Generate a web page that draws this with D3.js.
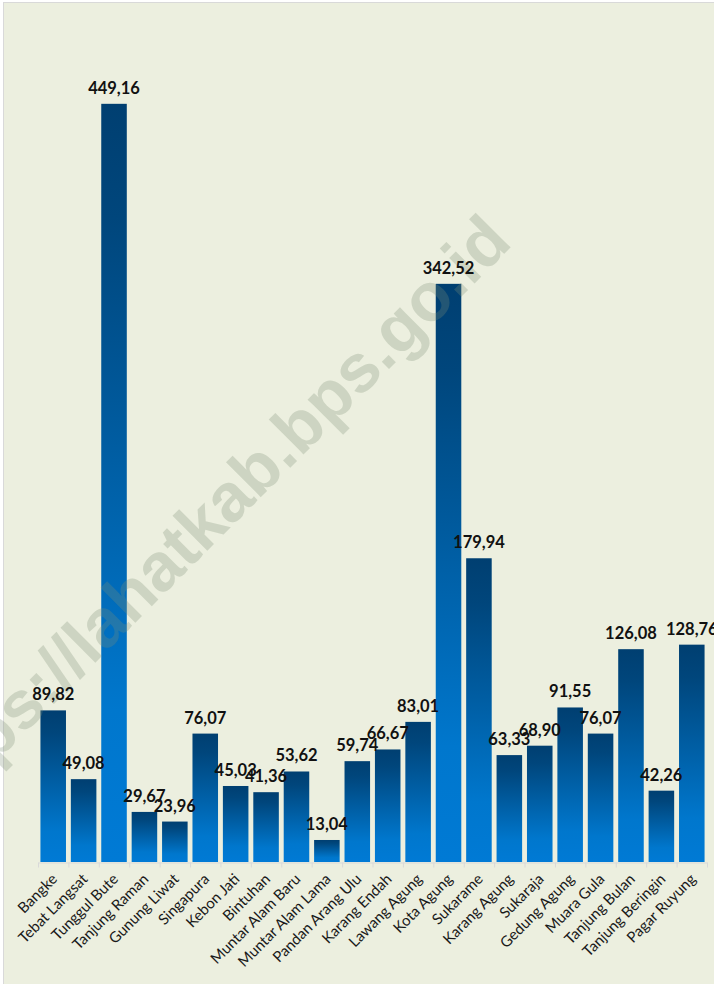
<!DOCTYPE html>
<html>
<head>
<meta charset="utf-8">
<script src="https://cdn.jsdelivr.net/npm/d3@7"></script>
<style>
  html, body { margin: 0; padding: 0; background: #fff; }
  .d3__axis path, .d3__axis line { stroke: #d9d9d9; }
  .d3__axis text { display: none; }
</style>
</head>
<body>
<div id="chart"></div>
<script>
"use strict";

// nama desa, urutan sesuai chart
var categories = [
  "Bangke", "Tebat Langsat", "Tunggul Bute", "Tanjung Raman", "Gunung Liwat",
  "Singapura", "Kebon Jati", "Bintuhan", "Muntar Alam Baru", "Muntar Alam Lama",
  "Pandan Arang Ulu", "Karang Endah", "Lawang Agung", "Kota Agung", "Sukarame",
  "Karang Agung", "Sukaraja", "Gedung Agung", "Muara Gula", "Tanjung Bulan",
  "Tanjung Beringin", "Pagar Ruyung"
];

var values = [
  89.82, 49.08, 449.16, 29.67, 23.96,
  76.07, 45.03, 41.36, 53.62, 13.04,
  59.74, 66.67, 83.01, 342.52, 179.94,
  63.33, 68.90, 91.55, 76.07, 126.08,
  42.26, 128.76
];

var yDomain = [0, 500];
var watermark = "https://lahatkab.bps.go.id";

var width = 714;
var height = 984;
var plotLeft = 38;    // kiri area plot
var plotRight = 707;  // kanan area plot
var plotTop = 18;
var plotBottom = 862; // garis sumbu x

var svg = d3.select('#chart')
            .append('svg')
            .attr('width', width)
            .attr('height', height)
            .style('display', 'block');

// bingkai chart
svg.append('rect')
  .attr('x', 3.5)
  .attr('y', 2.5)
  .attr('width', width + 20)
  .attr('height', height + 20)
  .attr('fill', '#ecefdf')
  .attr('stroke', '#d9d9d9');

var scaleX = d3.scaleBand()
              .domain(categories)
              .range([plotLeft, plotRight])
              .paddingInner(0.16)
              .paddingOuter(0.08);

var scaleY = d3.scaleLinear()
              .domain(yDomain)
              .range([plotBottom, plotTop]);

// garis sumbu dengan tick di batas kategori
var scaleEdges = d3.scaleLinear()
                  .domain([0, categories.length])
                  .range([plotLeft, plotRight]);

var xAxis = d3.axisBottom(scaleEdges)
              .tickValues(d3.range(categories.length + 1))
              .tickSizeInner(5)
              .tickSizeOuter(0);

svg.append('g')
  .classed('d3__axis', true)
  .attr('transform', 'translate(0,' + (plotBottom + 0.5) + ')')
  .call(xAxis);

var grad = svg.append('defs')
              .append('linearGradient')
              .attr('id', 'bar-gradient')
              .attr('gradientUnits', 'objectBoundingBox')
              .attr('x1', 0).attr('y1', 0)
              .attr('x2', 0).attr('y2', 1);

grad.append('stop').attr('offset', '0%').attr('stop-color', '#003f71');
grad.append('stop').attr('offset', '15%').attr('stop-color', '#00467c');
grad.append('stop').attr('offset', '80%').attr('stop-color', '#0077cd');
grad.append('stop').attr('offset', '100%').attr('stop-color', '#007ad5');

var data = categories.map(function(c, i) {
  return { name: c, value: values[i] };
});

svg.append('g')
  .selectAll('rect')
  .data(data)
  .enter().append('rect')
    .attr('x', function(d) { return scaleX(d.name); })
    .attr('y', function(d) { return scaleY(d.value); })
    .attr('width', scaleX.bandwidth())
    .attr('height', function(d) { return plotBottom - scaleY(d.value); })
    .attr('fill', 'url(#bar-gradient)');

// watermark transparan di atas batang
svg.append('text')
  .attr('transform', 'translate(514, 244) rotate(-45)')
  .attr('text-anchor', 'end')
  .style('font-family', '"Liberation Sans", Arial, sans-serif')
  .style('font-weight', 'bold')
  .style('font-size', '68px')
  .attr('fill', '#7f8f78')
  .attr('fill-opacity', 0.28)
  .text(watermark);

var fmt = d3.format('.2f');

// label nilai
svg.append('g')
  .selectAll('text')
  .data(data)
  .enter().append('text')
    .attr('x', function(d) { return scaleX(d.name) + scaleX.bandwidth() / 2; })
    .attr('y', function(d) { return scaleY(d.value) - 10; })
    .attr('text-anchor', 'middle')
    .style('font-family', 'Lato, sans-serif')
    .style('font-weight', 'bold')
    .style('font-size', '16.5px')
    .attr('fill', '#111')
    .text(function(d) { return fmt(d.value).replace('.', ','); });

// label kategori miring
svg.append('g')
  .selectAll('text')
  .data(data)
  .enter().append('text')
    .attr('transform', function(d) {
      var cx = scaleX(d.name) + scaleX.bandwidth() / 2 + 5;
      return 'translate(' + cx + ',' + (plotBottom + 18) + ') rotate(-45)';
    })
    .attr('text-anchor', 'end')
    .style('font-family', 'Lato, sans-serif')
    .style('font-size', '15px')
    .attr('fill', '#1a1a1a')
    .text(function(d) { return d.name; });
</script>
</body>
</html>
